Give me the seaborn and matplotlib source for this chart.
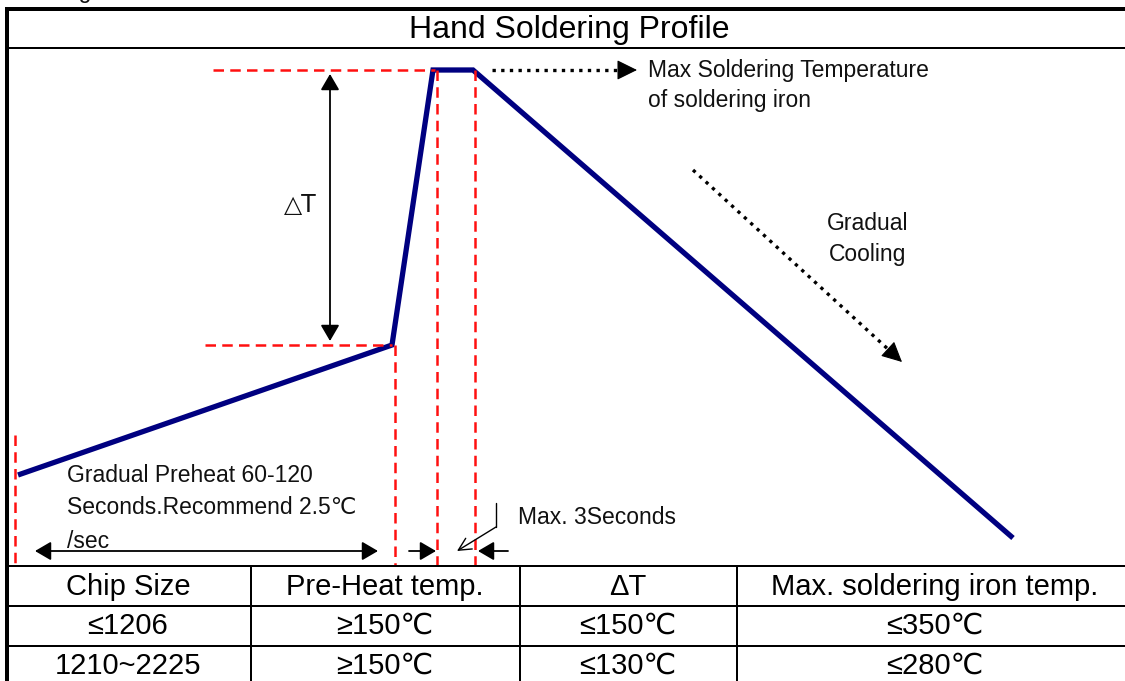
import matplotlib
matplotlib.use("Agg")
import matplotlib.pyplot as plt
import seaborn as sns
import pandas as pd
import numpy as np

sns.set_theme(style="white")
plt.rcParams['font.family'] = ['Liberation Sans', 'DejaVu Sans']

# ---------------- data ----------------
title = "Hand Soldering Profile"
# profile corner points (drawing coordinates, y grows downward)
profile_x = [18, 392, 433, 473, 1013]
profile_y = [475, 345, 70, 70, 538]

table_headers = ["Chip Size", "Pre-Heat temp.", "ΔT", "Max. soldering iron temp."]
chip_sizes = ["≤1206", "1210~2225"]
preheat_temps = ["≥150℃", "≥150℃"]
delta_ts = ["≤150℃", "≤130℃"]
max_iron_temps = ["≤350℃", "≤280℃"]

peak_label = ["Max Soldering Temperature", "of soldering iron"]
preheat_label = ["Gradual Preheat 60-120", "Seconds.Recommend 2.5℃", "/sec"]
cooling_label = ["Gradual", "Cooling"]
delta_label = "△T"
hold_label = "Max. 3Seconds"

# ---------------- figure ----------------
W, H = 1125, 681
fig = plt.figure(figsize=(W / 100, H / 100), dpi=100)
ax = fig.add_axes([0, 0, 1, 1])

df = pd.DataFrame({"x": profile_x, "y": profile_y})
sns.lineplot(data=df, x="x", y="y", sort=False, estimator=None, color="#000080",
             lw=3.8, ax=ax, solid_joinstyle="miter", solid_capstyle="butt")

txt_color = "#111111"
px = 0.72  # px -> pt

# red dashed guides
red = dict(color="#ff1010", lw=1.8, dashes=(4.2, 2.5))
ax.plot([213, profile_x[2] + 2], [profile_y[2]] * 2, **red)
ax.plot([205, profile_x[1]], [profile_y[1]] * 2, **red)
for x0, y0 in [(profile_x[0] - 3, 435), (profile_x[1] + 3, profile_y[1]),
               (profile_x[2] + 4, profile_y[2]), (profile_x[3] + 2, profile_y[3])]:
    ax.plot([x0, x0], [y0, 565], **red)

# black arrows
dbl = dict(arrowstyle="<|-|>,head_length=0.65,head_width=0.38", color="black",
           lw=1.3, mutation_scale=15, shrinkA=0, shrinkB=0)
sgl = dict(arrowstyle="-|>,head_length=0.65,head_width=0.38", color="black",
           lw=1.3, mutation_scale=15, shrinkA=0, shrinkB=0)
ax.annotate("", xy=(330, 74), xytext=(330, 341), arrowprops=dbl)
ax.annotate("", xy=(35, 551), xytext=(378, 551), arrowprops=dbl)
ax.annotate("", xy=(436, 551), xytext=(409, 551), arrowprops=sgl)
ax.annotate("", xy=(478, 551), xytext=(508, 551), arrowprops=sgl)
ax.plot([496, 496], [503, 527], color="black", lw=1.0)
ax.annotate("", xy=(457, 551), xytext=(496, 527),
            arrowprops=dict(arrowstyle="->,head_length=0.6,head_width=0.3", color="black",
                            lw=1.0, mutation_scale=15, shrinkA=0, shrinkB=0))

# dotted arrows
def dotted_arrow(p0, p1):
    p0 = np.array(p0, float); p1 = np.array(p1, float)
    u = (p1 - p0) / np.linalg.norm(p1 - p0)
    q = p1 - 14 * u
    ax.plot([p0[0], q[0]], [p0[1], q[1]], color="black", lw=2.4,
            linestyle=(0, (1, 1.6)))
    ax.annotate("", xy=tuple(p1), xytext=tuple(p1 - 17 * u),
                arrowprops=dict(arrowstyle="-|>,head_length=0.85,head_width=0.42",
                                color="black", lw=0.8, mutation_scale=15,
                                shrinkA=0, shrinkB=0))

dotted_arrow((492, 70), (637, 70))
dotted_arrow((693, 170), (902, 362))

# labels
fs = 16.5
ax.text(648, 71, peak_label[0], fontsize=fs, color=txt_color, va="center", ha="left")
ax.text(648, 101, peak_label[1], fontsize=fs, color=txt_color, va="center", ha="left")
for i, s in enumerate(preheat_label):
    ax.text(67, 475 + 33 * i, s, fontsize=fs, color=txt_color, va="center", ha="left")
ax.text(868, 223, cooling_label[0], fontsize=fs, color=txt_color, va="center", ha="center")
ax.text(868, 255, cooling_label[1], fontsize=fs, color=txt_color, va="center", ha="center")
ax.text(518, 518, hold_label, fontsize=fs, color=txt_color, va="center", ha="left")
ax.text(300, 205, delta_label, fontsize=17, color=txt_color, va="center", ha="center",
        family=["DejaVu Sans"])
# cut-off fragment at the very top (only its lower edge shows in the reference)
ax.text(92, -2, "Cooling", fontsize=fs, color=txt_color, va="baseline", ha="right")

# frame + title row
ax.plot([5, W], [8.5, 8.5], color="black", lw=4 * px, solid_capstyle="butt")
ax.plot([6.5, 6.5], [7, H], color="black", lw=4 * px, solid_capstyle="butt")
ax.plot([6, W], [48, 48], color="black", lw=2 * px)
ax.text(569, 30, title, fontsize=23, color="black", ha="center", va="center")

# table
row_lines = [566, 606, 646]
col_lines = [251, 520, 737]
for y in row_lines:
    ax.plot([6, W], [y, y], color="black", lw=2 * px)
for x in col_lines:
    ax.plot([x, x], [566, H], color="black", lw=2 * px)
col_centers = [128, 385, 628, 935]
row_centers = [587, 626, 666]
rows = [table_headers] + [list(r) for r in zip(chip_sizes, preheat_temps, delta_ts, max_iron_temps)]
for r, yc in zip(rows, row_centers):
    for s, xc in zip(r, col_centers):
        ax.text(xc, yc, s, fontsize=21, color="black", ha="center", va="center")

ax.set_xlim(0, W)
ax.set_ylim(H, 0)
ax.axis("off")
fig.savefig("out.png", dpi=100)
